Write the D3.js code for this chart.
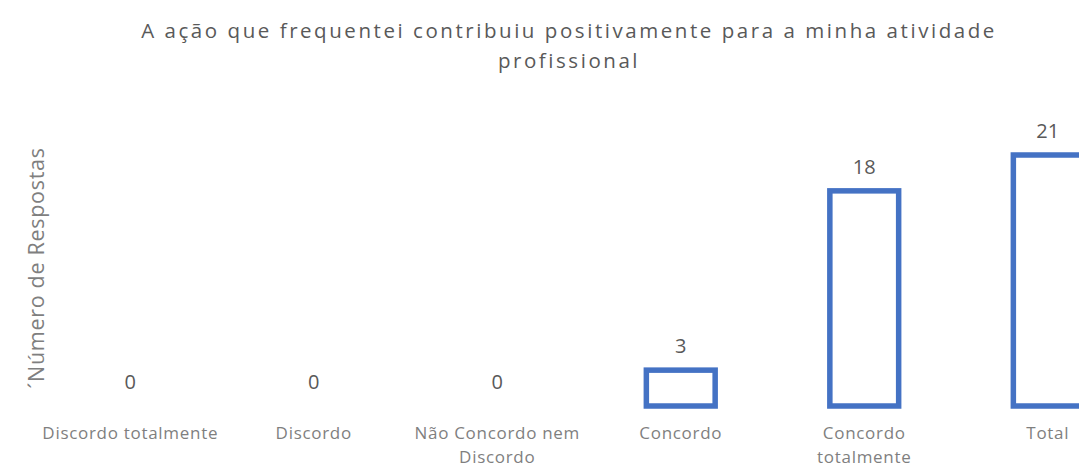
<!DOCTYPE html>
<html><head><meta charset="utf-8">
<script src="https://cdn.jsdelivr.net/npm/d3@7"></script>
<style>
html,body{margin:0;padding:0;background:#fff;overflow:hidden;}
text{font-family:"Open Sans",sans-serif;}
</style></head>
<body>
<svg id="chart" width="1079" height="467"></svg>
<script>
const categories = ["Discordo totalmente", "Discordo", "Não Concordo nem Discordo", "Concordo", "Concordo totalmente", "Total"];
const categoryLines = [["Discordo totalmente"], ["Discordo"], ["Não Concordo nem", "Discordo"], ["Concordo"], ["Concordo", "totalmente"], ["Total"]];
const values = [0, 0, 0, 3, 18, 21];
const titleLines = ["A ação que frequentei contribuiu positivamente para a minha atividade", "profissional"];
const yTitle = "´Número de Respostas";

const data = categories.map((c, i) => ({ c, v: values[i], lines: categoryLines[i] }));

const svg = d3.select("#chart");
const x = d3.scaleBand().domain(categories).range([38.5, 1139.5]).padding(0);
const y = d3.scaleLinear().domain([0, 21]).range([406, 155]);
const barW = x.bandwidth() * 0.375;
const cx = d => x(d.c) + x.bandwidth() / 2;

svg.selectAll("text.title").data(titleLines).enter().append("text")
  .attr("class", "title")
  .attr("x", 569).attr("y", (d, i) => 38 + i * 30)
  .attr("text-anchor", "middle")
  .attr("fill", "#595959")
  .style("font-size", "20.5px").style("letter-spacing", "2.55px")
  .text(d => d);

svg.append("text")
  .attr("transform", "translate(44,268) rotate(-90)")
  .attr("text-anchor", "middle")
  .attr("fill", "#7f7f7f")
  .style("font-size", "21.5px").style("letter-spacing", "0.7px")
  .text(yTitle);

svg.selectAll("rect.bar").data(data.filter(d => d.v > 0)).enter().append("rect")
  .attr("class", "bar")
  .attr("x", d => cx(d) - barW / 2)
  .attr("y", d => y(d.v))
  .attr("width", barW)
  .attr("height", d => y(0) - y(d.v))
  .attr("fill", "none")
  .attr("stroke", "#4472C4")
  .attr("stroke-width", 5.5);

svg.selectAll("text.val").data(data).enter().append("text")
  .attr("class", "val")
  .attr("x", cx)
  .attr("y", d => y(d.v) - 17)
  .attr("text-anchor", "middle")
  .attr("fill", "#595959")
  .style("font-size", "20px")
  .text(d => d.v);

const cat = svg.selectAll("g.cat").data(data).enter().append("g")
  .attr("class", "cat")
  .attr("transform", d => `translate(${cx(d)},0)`);
cat.selectAll("text").data(d => d.lines).enter().append("text")
  .attr("x", 0).attr("y", (d, i) => 439 + i * 24)
  .attr("text-anchor", "middle")
  .attr("fill", "#7f7f7f")
  .style("font-size", "17px").style("letter-spacing", "0.7px")
  .text(d => d);
</script>
</body></html>
